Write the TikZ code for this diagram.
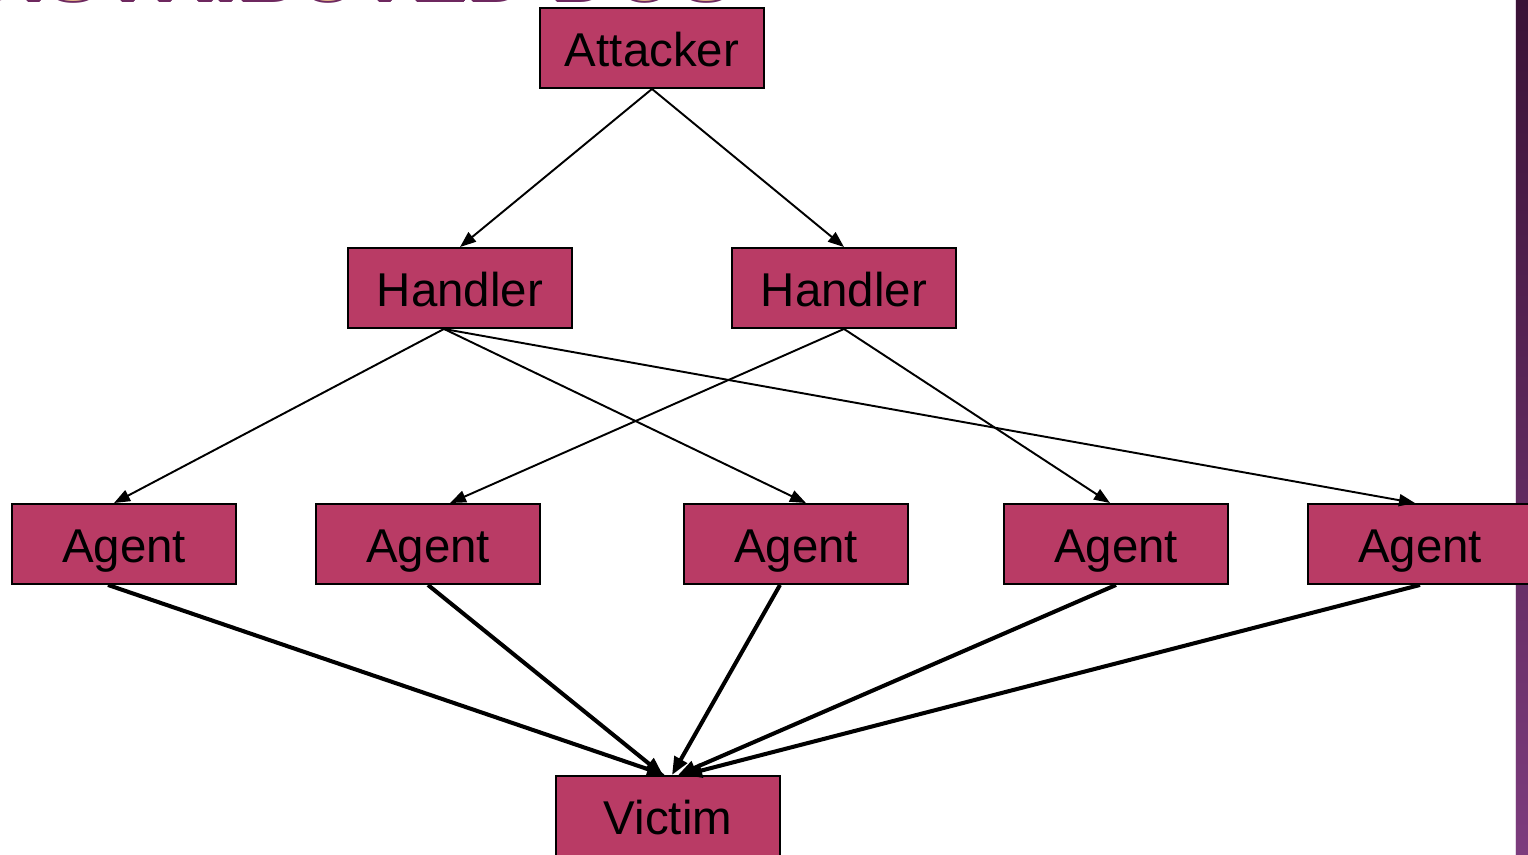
\documentclass[tikz,border=0pt]{standalone}
\usepackage{fontspec}
\setmainfont{Liberation Sans}
\usetikzlibrary{arrows.meta,calc}
\definecolor{boxfill}{RGB}{185,59,101}
\definecolor{titlefill}{RGB}{252,212,147}
\definecolor{titleline}{RGB}{110,40,95}
\definecolor{bartop}{RGB}{58,18,54}
\definecolor{barbot}{RGB}{125,60,125}
\tikzset{
  block/.style={draw=black, line width=1.1pt, fill=boxfill, minimum width=4.48cm,
    minimum height=1.6cm, inner sep=0pt, text height=27pt, text depth=5.6pt,
    font=\fontsize{27}{30}\selectfont},
  link/.style={line width=1.1pt, -{Triangle[length=0.32cm,width=0.24cm]}},
  hit/.style={line width=2.3pt, -{Triangle[length=0.36cm,width=0.28cm]}},
  titletext/.style={font=\fontsize{48}{50}\bfseries\selectfont, anchor=base east, inner sep=0pt}
}
\begin{document}
\begin{tikzpicture}
\useasboundingbox (0,0) rectangle (30.56,-17.1);
\clip (0,0) rectangle (30.56,-17.1);
\fill[white] (0,0) rectangle (30.56,-17.1);
% heading, mostly above the visible area
\foreach \dx/\dy in {0.03/0,-0.03/0,0/0.03,0/-0.03,0.02/0.02,-0.02/0.02,0.02/-0.02,-0.02/-0.02}
  \node[titletext, text=titleline] at (14.7+\dx,-0.02+\dy) {DISTRIBUTED DOS};
\node[titletext, text=titlefill] (title) at (14.7,-0.02) {DISTRIBUTED DOS};
% side bar
\shade[top color=bartop, bottom color=barbot] (30.3,0) rectangle (30.56,-17.1);
\draw[white!80!barbot, line width=0.4pt] (30.3,0) -- (30.3,-17.1);
% nodes
\node[block] (att) at (13.04,-0.96) {Attacker};
\node[block] (h1) at (9.2,-5.76) {Handler};
\node[block] (h2) at (16.88,-5.76) {Handler};
\node[block] (a1) at (2.48,-10.88) {Agent};
\node[block] (a2) at (8.56,-10.88) {Agent};
\node[block] (a3) at (15.92,-10.88) {Agent};
\node[block] (a4) at (22.32,-10.88) {Agent};
\node[block] (a5) at (28.4,-10.88) {Agent};
\node[block] (vic) at (13.36,-16.32) {Victim};
% attacker to handlers
\draw[link] (att.south) -- (h1.north);
\draw[link] (att.south) -- (h2.north);
% handlers to agents
\coordinate (h1s) at ($(h1.south)+(-0.32,0)$);
\draw[link] (h1s) -- ($(a1.north)+(-0.2,0)$);
\draw[link] (h1s) -- ($(a3.north)+(0.2,0)$);
\draw[link] (h1s) -- ($(a5.north)+(-0.1,0)$);
\draw[link] (h2.south) -- ($(a2.north)+(0.44,0)$);
\draw[link] (h2.south) -- ($(a4.north)+(-0.12,0)$);
% agents to victim
\draw[hit] ($(a1.south)+(-0.32,0)$) -- ($(vic.north)+(-0.06,0)$);
\draw[hit] (a2.south) -- ($(vic.north)+(-0.1,0)$);
\draw[hit] ($(a3.south)+(-0.32,0)$) -- ($(vic.north)+(0.08,0)$);
\draw[hit] (a4.south) -- ($(vic.north)+(0.2,0)$);
\draw[hit] (a5.south) -- ($(vic.north)+(0.32,0)$);
\end{tikzpicture}
\end{document}
